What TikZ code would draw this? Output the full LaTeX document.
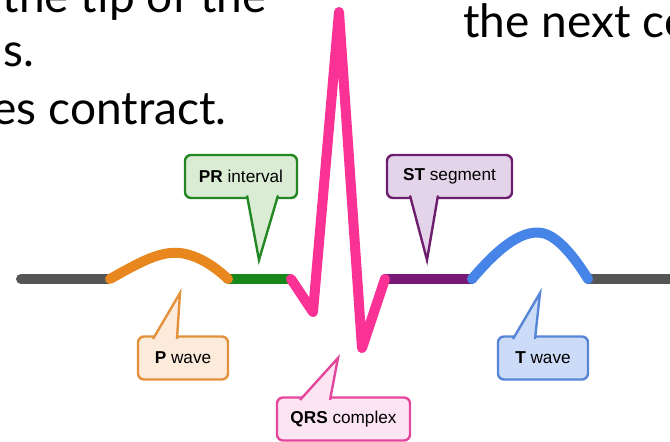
\documentclass[tikz,border=0pt]{standalone}
\usepackage{fontspec}
\setmainfont{Liberation Sans}
\newfontfamily\slidefont{Lato}
\usetikzlibrary{calc}

% trace colours
\definecolor{flatGray}{RGB}{85,85,85}
\definecolor{pOrange}{RGB}{232,135,30}
\definecolor{prGreen}{RGB}{25,135,25}
\definecolor{qrsPink}{RGB}{250,50,150}
\definecolor{stPurple}{RGB}{120,25,120}
\definecolor{tBlue}{RGB}{70,132,232}

% callout colours
\definecolor{pLine}{RGB}{228,145,60}
\definecolor{pFill}{RGB}{252,234,218}
\definecolor{prLine}{RGB}{35,135,35}
\definecolor{prFill}{RGB}{218,236,212}
\definecolor{qrsLine}{RGB}{228,70,155}
\definecolor{qrsFill}{RGB}{252,228,243}
\definecolor{stLine}{RGB}{110,30,110}
\definecolor{stFill}{RGB}{228,212,233}
\definecolor{tLine}{RGB}{88,134,215}
\definecolor{tFill}{RGB}{204,220,248}

\tikzset{
  trace/.style={line width=5pt, line cap=round, line join=round},
  tag/.style args={#1 on #2}{draw=#1, fill=#2, line width=1.2pt, rounded corners=3pt,
    outer sep=0pt, minimum height=21.5pt, font=\fontsize{8.6}{10}\selectfont},
  pointer/.style args={#1 on #2}{draw=#1, fill=#2, line width=1.2pt},
  slide/.style={font=\slidefont\fontsize{23}{27}\selectfont, inner sep=0pt}
}

\begin{document}
\begin{tikzpicture}[x=0.5pt, y=-0.5pt]

    % Fix the frame and cut everything that runs past it
    \useasboundingbox (0,0) rectangle (670,442);
    \clip (0,0) rectangle (670,442);

    % Bits of slide text around the trace
    \node[slide, anchor=base east] (line1) at (267,13) {the tip of the};
    \node[slide, anchor=base east] (line2) at (35,67) {s.};
    \node[slide, anchor=base east] (line3) at (227,125) {es contract.};
    \node[slide, anchor=base west] (line4) at (463,38) {the next co};

    % Baseline level of the trace
    \def\B{279}

    % Flat parts first, so the waves sit on top of them
    \draw[trace, flatGray] (21,\B) -- (108,\B);
    \draw[trace, flatGray] (588,\B) -- (690,\B);
    \draw[trace, prGreen] (228,\B) -- (290,\B);
    \draw[trace, stPurple] (385,\B) -- (472,\B);

    % P wave
    \draw[trace, pOrange] (110,\B) .. controls (140,262) and (160,251) .. (180,253)
        .. controls (196,255) and (212,264) .. (228,\B);

    % T wave
    \draw[trace, tBlue] (472,\B) .. controls (495,252) and (520,229) .. (542,233)
        .. controls (558,236) and (575,258) .. (588,\B);

    % QRS complex
    \coordinate (Q) at (313,312);
    \coordinate (R) at (339,12);
    \coordinate (S) at (362,348);
    \draw[trace, qrsPink] (291,\B) -- (Q) -- (R) -- (S) -- (385,\B);

    % Tips of the callout pointers
    \coordinate (ptip) at (180,293);
    \coordinate (prtip) at (259,260);
    \coordinate (qrstip) at (338,358);
    \coordinate (sttip) at (427,260);
    \coordinate (ttip) at (540,293);

    % Callouts: box first, then the pointer over its edge
    \node[tag=prLine on prFill, minimum width=56pt] (pr) at (241,176.5) {\textbf{PR} interval};
    \draw[pointer=prLine on prFill] ($(pr.south)+(6,-2.5)$) -- (prtip) -- ($(pr.south)+(37,-2.5)$);

    \node[tag=stLine on stFill, minimum width=62.5pt] (st) at (449.5,176.5) {\textbf{ST} segment};
    \draw[pointer=stLine on stFill] ($(st.south)+(-39.5,-2.5)$) -- (sttip) -- ($(st.south)+(-11.5,-2.5)$);

    \node[tag=pLine on pFill, minimum width=45pt] (p) at (183,358) {\textbf{P} wave};
    \draw[pointer=pLine on pFill] ($(p.north)+(-30,2.5)$) -- (ptip) -- ($(p.north)+(-6,2.5)$);

    \node[tag=tLine on tFill, minimum width=45pt] (t) at (543,358) {\textbf{T} wave};
    \draw[pointer=tLine on tFill] ($(t.north)+(-30,2.5)$) -- (ttip) -- ($(t.north)+(-8,2.5)$);

    \node[tag=qrsLine on qrsFill, minimum width=66.5pt] (qrs) at (343.5,419) {\textbf{QRS} complex};
    \draw[pointer=qrsLine on qrsFill] ($(qrs.north)+(-43.5,2.5)$) -- (qrstip) -- ($(qrs.north)+(-13.5,2.5)$);

\end{tikzpicture}
\end{document}
